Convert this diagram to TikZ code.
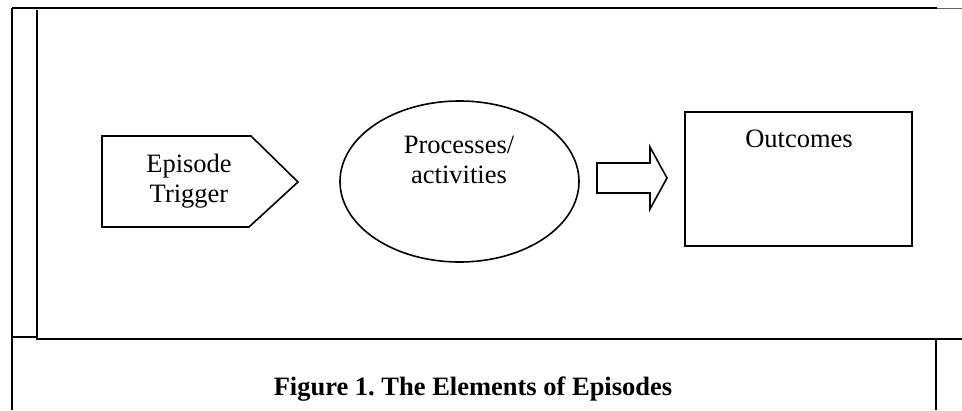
\documentclass[tikz,border=0pt]{standalone}
\usepackage{fontspec}
\setmainfont{Liberation Serif}
\usepackage{tikz}
\tikzset{frame/.style={line width=2.4pt}}
\tikzset{cell/.style={line width=1.6pt}}
\tikzset{part/.style={line width=1.6pt, line join=miter}}
\tikzset{lbl/.style={inner sep=0pt, font=\fontsize{26.5}{30}\selectfont}}
\frenchspacing

\begin{document}
\begin{tikzpicture}[x=1pt, y=-1pt]
            \useasboundingbox (0, 0) rectangle (962, 410);
            % table lines
            \draw[frame] (12, 8) -- (937, 8);
            \draw[line width=1pt, black!60] (937, 8.5) -- (962, 8.5);
            \draw[frame] (12, 8) -- (12, 410);
            \draw[frame] (12, 337) -- (37, 337);
            \draw[cell] (37, 10) -- (37, 339) -- (962, 339);
            \draw[frame] (936, 339) -- (936, 410);
            % the three elements
            \draw[part] (102, 136) -- (251, 136) -- (298, 182) -- (249, 227) -- (102, 227) -- cycle;
            \draw[part] (459.5, 181.5) ellipse [x radius=119.5, y radius=80.5];
            \draw[part] (597, 163) -- (650, 163) -- (650, 147) -- (667, 178) -- (650, 209) -- (650, 193) -- (597, 193) -- cycle;
            \draw[part] (685, 112) rectangle (912, 246);
            \node[lbl, align=center, anchor=base] (trigger) at (189, 202) {Episode\\Trigger};
            \node[lbl, align=center, anchor=base] (process) at (459, 183) {Processes/\\activities};
            \node[lbl, anchor=base] (outcome) at (799, 147) {Outcomes};
            \node[lbl, anchor=base, font=\fontsize{26.5}{30}\selectfont\bfseries] (caption) at (473, 395) {Figure 1. The Elements of Episodes};
        \end{tikzpicture}
\end{document}
